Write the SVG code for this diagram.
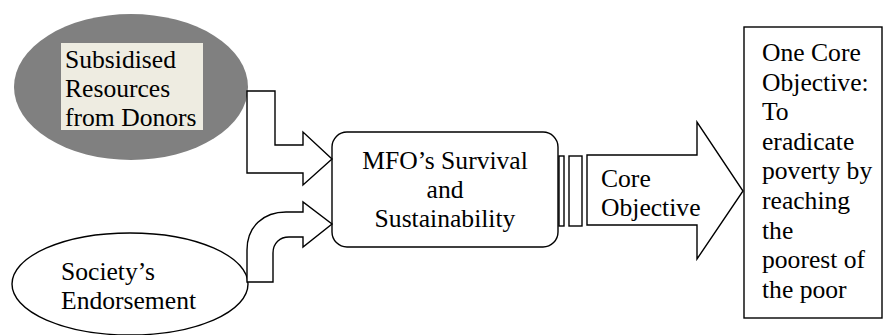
<svg xmlns="http://www.w3.org/2000/svg" width="883" height="335" viewBox="0 0 883 335" font-family="Liberation Serif" font-size="25.6">
<defs>
<style>
.s{fill:#fff;stroke:#000;stroke-width:1.4}
.c{text-anchor:middle}
</style>
</defs>
<rect width="883" height="335" fill="#fff"/>
<g id="donors">
<ellipse cx="131" cy="87" rx="117" ry="73" fill="#808080"/>
<rect x="61" y="43" width="142" height="87" fill="#EEECE1"/>
<text x="65" y="68">Subsidised</text>
<text x="65" y="97">Resources</text>
<text x="65" y="126">from Donors</text>
</g>
<g id="society">
<ellipse class="s" cx="130" cy="284" rx="118" ry="51"/>
<text x="61" y="280">Society’s</text>
<text x="61" y="309">Endorsement</text>
</g>
<g id="mfo">
<rect class="s" x="332" y="132" width="226" height="115" rx="15"/>
<text class="c" x="445" y="169">MFO’s Survival</text>
<text class="c" x="445" y="198">and</text>
<text class="c" x="445" y="227">Sustainability</text>
</g>
<g id="objective">
<rect class="s" x="744" y="27" width="138" height="291"/>
<text x="762" y="61">One Core</text>
<text x="762" y="90.6">Objective:</text>
<text x="762" y="120.2">To</text>
<text x="762" y="149.8">eradicate</text>
<text x="762" y="179.4">poverty by</text>
<text x="762" y="209">reaching</text>
<text x="762" y="238.6">the</text>
<text x="762" y="268.2">poorest of</text>
<text x="762" y="297.8">the poor</text>
</g>
<g id="connectors">
<path class="s" d="M247,91 L275,91 L275,145 L303,145 L303,132 L332,159 L303,185 L303,173 L247,173 Z"/>
<path class="s" d="M247,282 L247,250 C247,226 264,212 286,212 L303,212 L303,202 L332,224 L303,247 L303,237 L289,237 C280,237 273,243 273,253 L273,282 Z"/>
<rect class="s" x="559" y="156" width="5" height="70"/>
<rect class="s" x="569" y="156" width="13" height="70"/>
<path class="s" d="M587,155 L697,155 L697,122 L743,191 L697,259 L697,225 L587,225 Z"/>
<text x="601" y="187">Core</text>
<text x="601" y="216">Objective</text>
</g>
</svg>
